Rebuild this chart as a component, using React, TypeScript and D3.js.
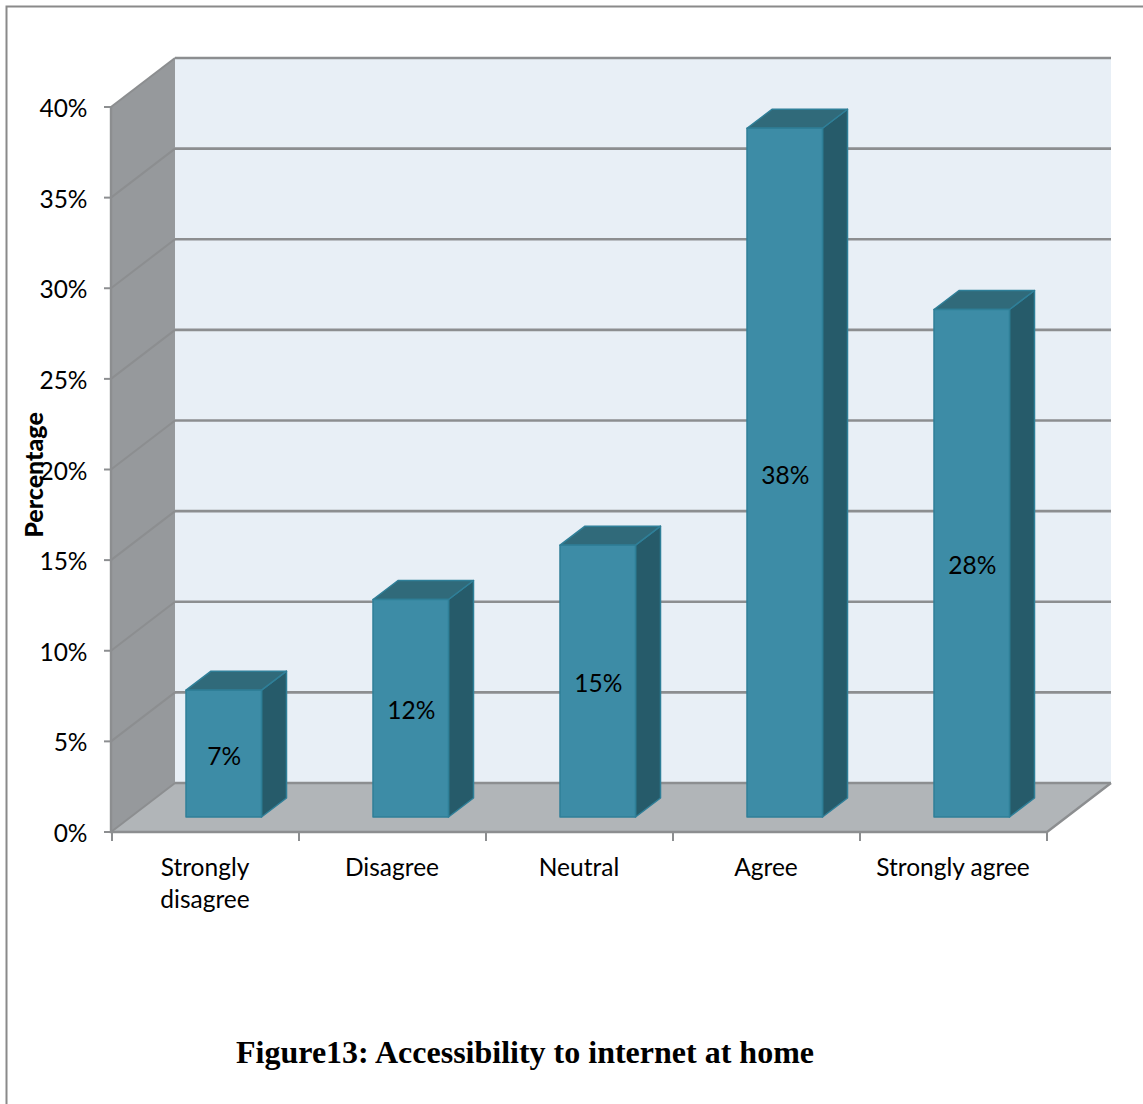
import React from "react";
import * as d3 from "d3";

const categories = ["Strongly disagree", "Disagree", "Neutral", "Agree", "Strongly agree"];
const categoryLines = [["Strongly", "disagree"], ["Disagree"], ["Neutral"], ["Agree"], ["Strongly agree"]];
const values = [7, 12, 15, 38, 28];
const valueLabels = ["7%", "12%", "15%", "38%", "28%"];
const yTicks = [0, 5, 10, 15, 20, 25, 30, 35, 40];

const WIDTH = 1143;
const HEIGHT = 1104;
const LABEL_FONT = "Lato, 'Open Sans', sans-serif";

// Front plane of the 3D box, with the depth vectors of the walls and the bars.
const y = d3.scaleLinear().domain([0, 40]).range([832, 107]);
const x = d3.scaleBand<string>().domain(categories).range([112, 1047]);
const wallDx = 64;
const wallDy = -49;
const barDx = 25;
const barDy = -19;
const barInset = 74;
const barWidth = 75.5;
const barBase = 817;
const pxPerUnit = y(0) - y(1);

const poly = (pts: [number, number][]) => d3.line()(pts) + "Z";

export default function App() {
  const backLeft = x.range()[0] - 1 + wallDx;
  const frontLeft = x.range()[0] - 1;
  const right = x.range()[1];
  return (
    <svg
      width={WIDTH}
      height={HEIGHT}
      style={{ position: "absolute", left: 0, top: 0, background: "#fff" }}
    >
      {/* page frame, open on the right and the bottom */}
      <path d={`M6.5,${HEIGHT}V6.5H${WIDTH}`} fill="none" stroke="#8a8a8a" strokeWidth={2} />

      {/* back wall */}
      <rect
        x={backLeft}
        y={y(40) + wallDy}
        width={WIDTH - 32 - backLeft}
        height={y(0) - y(40)}
        fill="#e8eff6"
      />
      {/* side wall */}
      <path
        d={poly([
          [frontLeft, y(40)],
          [backLeft, y(40) + wallDy],
          [backLeft, y(0) + wallDy],
          [frontLeft, y(0)],
        ])}
        fill="#96999c"
      />
      {/* floor */}
      <path
        d={poly([
          [frontLeft, y(0)],
          [backLeft, y(0) + wallDy],
          [right + wallDx, y(0) + wallDy],
          [right, y(0)],
        ])}
        fill="#b1b5b8"
      />

      {/* gridlines folding from the side wall onto the back wall */}
      {yTicks.map((t) => (
        <g key={t} fill="none" stroke="#8c8e90">
          <path d={`M${frontLeft},${y(t)}L${backLeft},${y(t) + wallDy}`} strokeWidth={2} />
          <path d={`M${backLeft},${y(t) + wallDy}H${right + wallDx}`} strokeWidth={2.6} />
        </g>
      ))}
      <path
        d={`M${frontLeft},${y(40)}V${y(0)}H${right}L${right + wallDx},${y(0) + wallDy}`}
        fill="none"
        stroke="#8c8e90"
        strokeWidth={2.4}
      />

      {/* axis ticks */}
      {yTicks.map((t) => (
        <line key={t} x1={frontLeft - 7} x2={frontLeft} y1={y(t)} y2={y(t)} stroke="#8c8e90" strokeWidth={2} />
      ))}
      {[...categories.map((c) => x(c) as number), right].map((px) => (
        <line key={px} x1={px} x2={px} y1={y(0)} y2={y(0) + 9} stroke="#8c8e90" strokeWidth={2} />
      ))}

      {/* bars */}
      {categories.map((c, i) => {
        const left = (x(c) as number) + barInset;
        const rightEdge = left + barWidth;
        const top = barBase - values[i] * pxPerUnit;
        return (
          <g key={c} stroke="#2f7f98" strokeWidth={1.5} strokeLinejoin="round">
            <path
              d={poly([
                [rightEdge, top],
                [rightEdge + barDx, top + barDy],
                [rightEdge + barDx, barBase + barDy],
                [rightEdge, barBase],
              ])}
              fill="#265b6a"
            />
            <path
              d={poly([
                [left, top],
                [left + barDx, top + barDy],
                [rightEdge + barDx, top + barDy],
                [rightEdge, top],
              ])}
              fill="#306a7a"
            />
            <rect x={left} y={top} width={barWidth} height={barBase - top} fill="#3d8ca6" />
          </g>
        );
      })}

      {/* value labels, centred on the front face */}
      <g fontFamily={LABEL_FONT} fontSize={24.5} fill="#000" textAnchor="middle">
        {categories.map((c, i) => (
          <text
            key={c}
            x={(x(c) as number) + barInset + barWidth / 2 + 0.5}
            y={barBase - (values[i] * pxPerUnit) / 2 + 11}
          >
            {valueLabels[i]}
          </text>
        ))}
      </g>

      {/* y axis labels */}
      <g fontFamily={LABEL_FONT} fontSize={24.5} fill="#000" textAnchor="end">
        {yTicks.map((t) => (
          <text key={t} x={87.5} y={y(t) + 10}>
            {d3.format("d")(t)}%
          </text>
        ))}
      </g>

      {/* category labels */}
      <g fontFamily={LABEL_FONT} fontSize={24.5} fill="#000" textAnchor="middle">
        {categories.map((c, i) =>
          categoryLines[i].map((line, j) => (
            <text key={line} x={(x(c) as number) + 93} y={876 + j * 32}>
              {line}
            </text>
          ))
        )}
      </g>

      <text
        transform="translate(43,475) rotate(-90)"
        fontFamily={LABEL_FONT}
        fontSize={25}
        fontWeight="900"
        textAnchor="middle"
        fill="#000"
      >
        Percentage
      </text>

      <text
        x={525}
        y={1063}
        fontFamily="'Liberation Serif', serif"
        fontSize={32}
        fontWeight="bold"
        textAnchor="middle"
        fill="#000"
      >
        Figure13: Accessibility to internet at home
      </text>
    </svg>
  );
}
